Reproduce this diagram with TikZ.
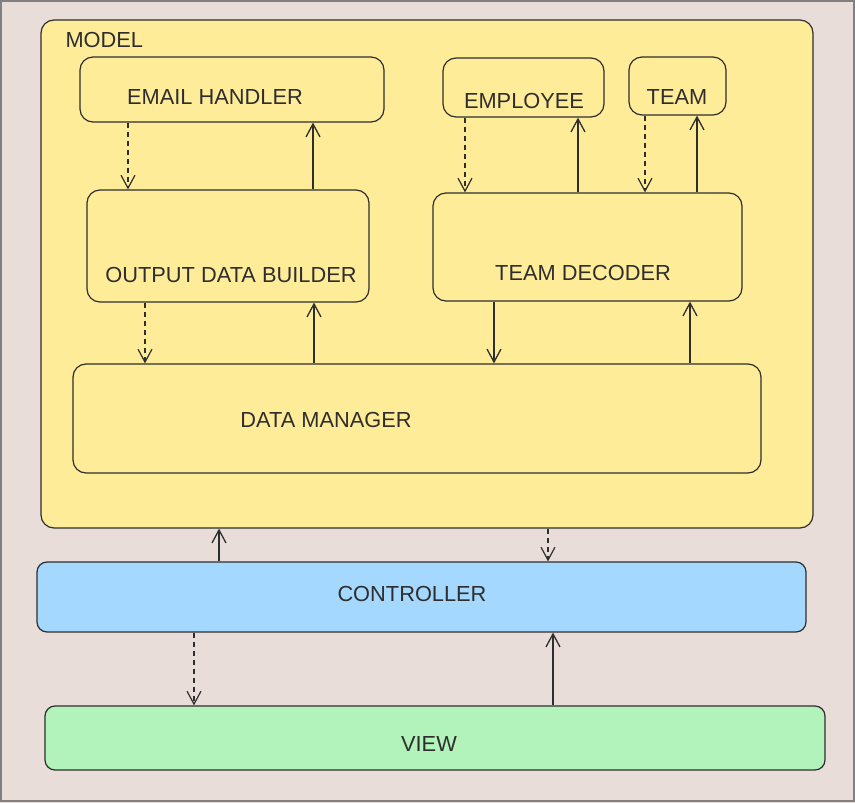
\documentclass[tikz,border=0pt]{standalone}
\usepackage{fontspec}
\setmainfont{Liberation Sans}
\usetikzlibrary{arrows.meta}
\definecolor{bgpink}{HTML}{E9DDD9}
\definecolor{modelyellow}{HTML}{FFEC99}
\definecolor{ctrlblue}{HTML}{A5D8FF}
\definecolor{viewgreen}{HTML}{B2F2BB}
\definecolor{inkgray}{HTML}{2E2E2E}
\tikzset{
  block/.style={draw=inkgray, line width=1.2pt, rounded corners=13pt, inner sep=0pt},
  lbl/.style={font=\fontsize{21.8}{26}\selectfont, text=inkgray},
  call/.style={draw=inkgray, line width=1.3pt, -{Straight Barb[length=13pt,width=14pt]}},
  reply/.style={call, line width=1.2pt, dash pattern=on 5pt off 4pt}
}
\begin{document}
\begin{tikzpicture}[x=1pt, y=-1pt]
        \useasboundingbox (0,0) rectangle (855,803);
        % Sfondo
        \fill[bgpink] (0,0) rectangle (855,803);
        \draw[gray, line width=1.5pt] (1,1) rectangle (854,801);
        % Model e i suoi blocchi
        \node[block, fill=modelyellow, minimum width=772, minimum height=508] (model) at (427,274) {};
        \node[lbl, anchor=west] (modellbl) at (62,40) {MODEL};
        \node[block, minimum width=304, minimum height=65] (email) at (232,89.5) {};
        \node[lbl] (emaillbl) at (215,97) {EMAIL HANDLER};
        \node[block, minimum width=282, minimum height=112] (builder) at (228,246) {};
        \node[lbl] (builderlbl) at (231,275) {OUTPUT DATA BUILDER};
        \node[block, minimum width=161, minimum height=59] (employee) at (523.5,87.5) {};
        \node[lbl] (employeelbl) at (524,101) {EMPLOYEE};
        \node[block, minimum width=97, minimum height=58] (team) at (677.5,86) {};
        \node[lbl] (teamlbl) at (677,97) {TEAM};
        \node[block, minimum width=309, minimum height=108] (decoder) at (587.5,247) {};
        \node[lbl] (decoderlbl) at (583,273) {TEAM DECODER};
        \node[block, minimum width=688, minimum height=109] (manager) at (417,418.5) {};
        \node[lbl] (managerlbl) at (326,420) {DATA MANAGER};
        % Controller e View
        \node[block, fill=ctrlblue, rounded corners=10pt, minimum width=769, minimum height=70] (controller) at (421.5,597) {};
        \node[lbl] (controllerlbl) at (412,594) {CONTROLLER};
        \node[block, fill=viewgreen, rounded corners=10pt, minimum width=780, minimum height=64] (view) at (435,738) {};
        \node[lbl] (viewlbl) at (429,744) {VIEW};
        % Frecce dentro il model
        \draw[reply] (128,0 |- email.south) -- (128,0 |- builder.north);
        \draw[call] (313,0 |- builder.north) -- (313,0 |- email.south);
        \draw[reply] (145,0 |- builder.south) -- (145,0 |- manager.north);
        \draw[call] (314,0 |- manager.north) -- (314,0 |- builder.south);
        \draw[reply] (465,0 |- employee.south) -- (465,0 |- decoder.north);
        \draw[call] (578,0 |- decoder.north) -- (578,0 |- employee.south);
        \draw[reply] (645,0 |- team.south) -- (645,0 |- decoder.north);
        \draw[call] (697,0 |- decoder.north) -- (697,0 |- team.south);
        \draw[call] (494,0 |- decoder.south) -- (494,0 |- manager.north);
        \draw[call] (690,0 |- manager.north) -- (690,0 |- decoder.south);
        % Frecce tra i livelli
        \draw[call] (219,0 |- controller.north) -- (219,0 |- model.south);
        \draw[reply] (548,0 |- model.south) -- (548,0 |- controller.north);
        \draw[reply] (194,0 |- controller.south) -- (194,0 |- view.north);
        \draw[call] (553,0 |- view.north) -- (553,0 |- controller.south);
\end{tikzpicture}
\end{document}
